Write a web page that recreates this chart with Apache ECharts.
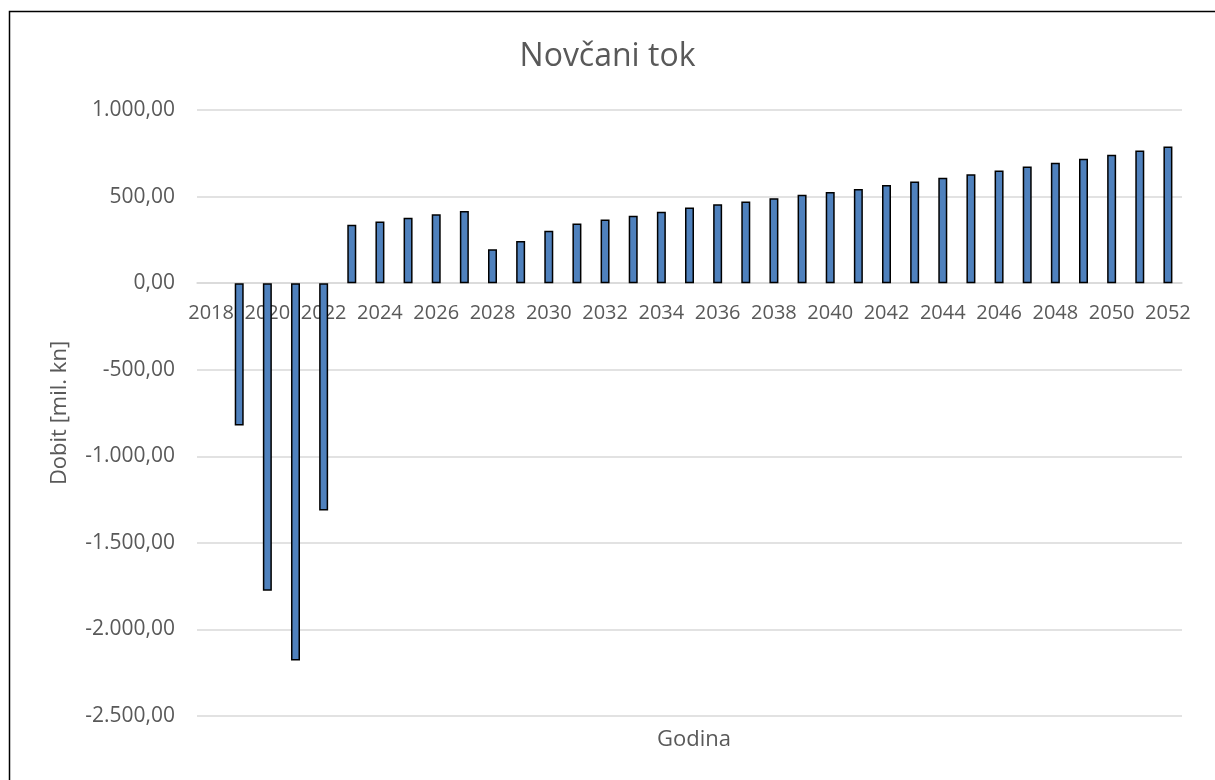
<!DOCTYPE html>
<html>
<head>
<meta charset="utf-8">
<script src="https://cdn.jsdelivr.net/npm/echarts@6/dist/echarts.min.js"></script>
<style>
html, body { margin: 0; padding: 0; background: #fff; }
#tok { width: 1215px; height: 780px; }
</style>
</head>
<body>
<div id="tok"></div>
<script>
// podaci - novcani tok
var godine = ['2018','2019','2020','2021','2022','2023','2024','2025','2026','2027',
	'2028','2029','2030','2031','2032','2033','2034','2035','2036','2037',
	'2038','2039','2040','2041','2042','2043','2044','2045','2046','2047',
	'2048','2049','2050','2051','2052'];
var dobit = [null, -822, -1776, -2180, -1313, 337, 356, 377, 398, 417,
	196, 244, 302, 344, 367, 389, 412, 437, 456, 471,
	491, 510, 527, 544, 567, 587, 608, 629, 650, 673,
	695, 718, 742, 766, 789];
var yTicks = { min: -2500, max: 1000, step: 500 };

function hrBroj(v) {
	var neg = v < 0;
	var s = Math.abs(v).toFixed(2).split('.');
	var cijeli = s[0].replace(/\B(?=(\d{3})+(?!\d))/g, '.');
	return (neg ? '-' : '') + cijeli + ',' + s[1];
}

var gridTop = 110, gridBottom = 64, visina = 780;
// x os na nuli (pomak od dna grida)
var nulaPomak = -(0 - yTicks.min) / (yTicks.max - yTicks.min) * (visina - gridTop - gridBottom);

var tokC = echarts.init(document.getElementById('tok'));
var font = 'Open Sans';
var tok = {
	animation: false,
	title: [
		{
			text: 'Novčani tok',
			left: 'center',
			top: 36,
			textStyle: { color: '#595959', fontSize: 32, fontWeight: 'normal', fontFamily: font }
		},
		{
			text: 'Godina',
			left: 689,
			textAlign: 'center',
			top: 724,
			textStyle: { color: '#595959', fontSize: 22, fontWeight: 'normal', fontFamily: font }
		}
	],
	graphic: [
		{
			type: 'rect',
			shape: { x: 9.5, y: 11.5, width: 1230, height: 800 },
			style: { fill: 'none', stroke: '#000', lineWidth: 1.5 },
			silent: true
		}
	],
	grid: {
		left: 197,
		right: 33,
		top: gridTop,
		bottom: gridBottom
	},
	xAxis: [
		{
			type: 'category',
			data: godine,
			offset: nulaPomak,
			axisTick: { show: false },
			axisLine: {
				onZero: false,
				lineStyle: { color: '#d9d9d9', width: 1.5 }
			},
			axisLabel: {
				interval: 1,
				margin: 20,
				color: '#595959',
				fontSize: 20,
				fontFamily: font
			}
		}
	],
	yAxis: [
		{
			type: 'value',
			min: yTicks.min,
			max: yTicks.max,
			interval: yTicks.step,
			name: 'Dobit [mil. kn]',
			nameLocation: 'middle',
			nameGap: 126,
			nameTextStyle: { color: '#595959', fontSize: 22, fontFamily: font },
			axisLine: { show: false },
			axisTick: { show: false },
			axisLabel: {
				margin: 22,
				color: '#595959',
				fontSize: 21,
				fontFamily: font,
				formatter: hrBroj
			},
			splitLine: {
				lineStyle: { color: '#d9d9d9', width: 1.5 }
			}
		}
	],
	series: [
		{
			name: 'Dobit',
			type: 'bar',
			barWidth: 9,
			itemStyle: {
				color: '#4f81bd',
				borderColor: '#000',
				borderWidth: 1.5
			},
			data: dobit
		}
	]
};
tokC.setOption(tok);
</script>
</body>
</html>
